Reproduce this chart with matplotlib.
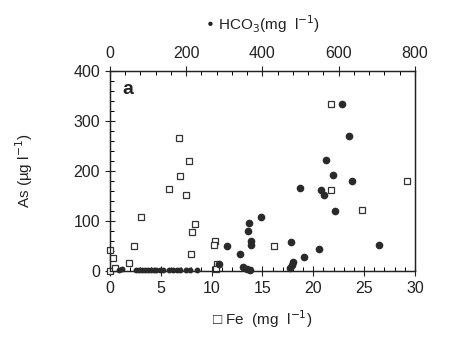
import numpy as np
import matplotlib.pyplot as plt
from matplotlib.ticker import MultipleLocator

plt.rcParams['font.family'] = ['Liberation Sans', 'DejaVu Sans']

# ==========================================
# Data
# ==========================================

# open squares: Fe (mg/l) vs As (ug/l)
fe = [6.8, 7.8, 6.9, 5.8, 7.5, 3.1, 8.4, 8.1, 2.4, 10.3, 10.2, 8.0,
      16.1, 0.0, 0.3, 1.9, 10.5, 10.4, 0.0, 0.5, 21.7, 21.7, 24.8, 29.2]
as_fe = [267, 220, 191, 165, 153, 108, 93, 77, 49, 59, 51, 34,
         50, 41, 25, 15, 14, 4, 0, 5, 335, 163, 121, 180]

# filled circles: HCO3 (mg/l) vs As (ug/l)
hco3 = [306, 341, 365, 363, 370, 370, 396, 474, 287, 499,
        608, 628, 567, 584, 635, 553, 562, 591, 548, 508, 705,
        479, 477, 472, 350, 360, 367]
as_hco3 = [49, 34, 95, 79, 59, 51, 107, 58, 14, 167,
           335, 270, 222, 193, 180, 163, 153, 119, 43, 27, 51,
           17, 12, 5, 8, 4, 1]

# small circles crowded along the bottom axis
hco3_low = [25, 32, 68, 76, 84, 92, 100, 108, 115, 122, 130, 138,
            155, 165, 175, 185, 200, 210, 228]
as_low = [2, 3, 2, 2, 2, 2, 2, 2, 2, 2, 2, 2,
          2, 2, 2, 2, 2, 2, 2]

# ==========================================
# Plot
# ==========================================

fig = plt.figure(figsize=(4.62, 3.37), dpi=100)
ax = fig.add_axes([0.238, 0.196, 0.66, 0.593])

ax.plot(fe, as_fe, linestyle="none", marker="s", markersize=5,
        markerfacecolor="white", markeredgecolor="#333333",
        markeredgewidth=0.9, clip_on=False, zorder=3)

ax.set_xlim(0, 30)
ax.set_ylim(0, 400)
ax.xaxis.set_major_locator(MultipleLocator(5))
ax.xaxis.set_minor_locator(MultipleLocator(1))
ax.yaxis.set_major_locator(MultipleLocator(100))
ax.yaxis.set_minor_locator(MultipleLocator(20))
ax.tick_params(axis="both", which="major", direction="inout", length=7,
               width=0.8, labelsize=11.5, colors="#222222")
ax.tick_params(axis="both", which="minor", direction="in", length=3,
               width=0.7)
ax.set_xlabel("\u25a1 Fe  (mg  l$^{-1}$)", fontsize=11, color="#222222",
              labelpad=9)
ax.set_ylabel("As (\u00b5g l$^{-1}$)", fontsize=11, color="#222222",
              labelpad=28)

ax2 = ax.twiny()
ax2.plot(hco3, as_hco3, linestyle="none", marker="o", markersize=4.5,
         color="#2a2a2a", clip_on=False, zorder=4)
ax2.plot(hco3_low, as_low, linestyle="none", marker="o", markersize=3.2,
         color="#2a2a2a", clip_on=False, zorder=4)
ax2.set_xlim(0, 800)
ax2.xaxis.set_major_locator(MultipleLocator(200))
ax2.xaxis.set_minor_locator(MultipleLocator(40))
ax2.tick_params(axis="x", which="major", direction="inout", length=7,
                width=0.8, labelsize=11.5, colors="#222222")
ax2.tick_params(axis="x", which="minor", direction="in", length=3,
                width=0.7)
ax2.set_xlabel("\u2022 HCO$_3$(mg  l$^{-1}$)", fontsize=11,
               color="#222222", labelpad=12)

for a in (ax, ax2):
    for s in a.spines.values():
        s.set_linewidth(0.9)
        s.set_color("#222222")

ax.text(1.2, 355, "a", fontsize=14, fontweight="bold", color="#222222")

fig.savefig("out.png", dpi=100)
